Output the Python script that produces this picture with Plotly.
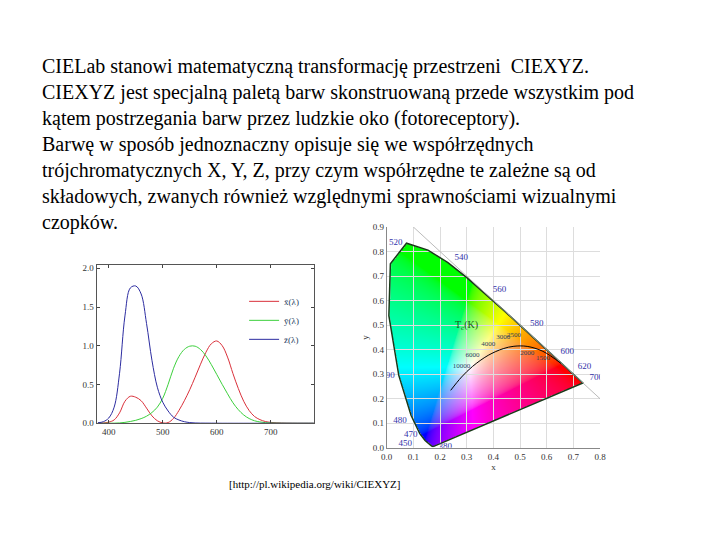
import numpy as np
import zlib, struct, base64
import plotly.graph_objects as go

text_lines = [
    "CIELab stanowi matematyczną transformację przestrzeni  CIEXYZ.",
    "CIEXYZ jest specjalną paletą barw skonstruowaną przede wszystkim pod",
    "kątem postrzegania barw przez ludzkie oko (fotoreceptory).",
    "Barwę w sposób jednoznaczny opisuje się we współrzędnych",
    "trójchromatycznych X, Y, Z, przy czym współrzędne te zależne są od",
    "składowych, zwanych również względnymi sprawnościami wizualnymi",
    "czopków.",
]
source = "[http://pl.wikipedia.org/wiki/CIEXYZ]"

wl = list(range(380, 790, 10))
xbar = [0.0014,0.0042,0.0143,0.0435,0.1344,0.2839,0.3483,0.3362,0.2908,0.1954,0.0956,0.0320,0.0049,0.0093,0.0633,0.1655,0.2904,0.4334,0.5945,0.7621,0.9163,1.0263,1.0622,1.0026,0.8544,0.6424,0.4479,0.2835,0.1649,0.0874,0.0468,0.0227,0.0114,0.0058,0.0029,0.0014,0.0007,0.0003,0.0002,0.0001,0.0000]
ybar = [0.0000,0.0001,0.0004,0.0012,0.0040,0.0116,0.0230,0.0380,0.0600,0.0910,0.1390,0.2080,0.3230,0.5030,0.7100,0.8620,0.9540,0.9950,0.9950,0.9520,0.8700,0.7570,0.6310,0.5030,0.3810,0.2650,0.1750,0.1070,0.0610,0.0320,0.0170,0.0082,0.0041,0.0021,0.0010,0.0005,0.0002,0.0001,0.0001,0.0000,0.0000]
zbar = [0.0065,0.0201,0.0679,0.2074,0.6456,1.3856,1.7471,1.7721,1.6692,1.2876,0.8130,0.4652,0.2720,0.1582,0.0782,0.0422,0.0203,0.0087,0.0039,0.0021,0.0017,0.0011,0.0008,0.0003,0.0002] + [0.0]*16

planck_T = ["1000","1500","2000","2500","3000","4000","6000","10000","∞"]
planck_x = [0.6528,0.5857,0.5267,0.4770,0.4369,0.3805,0.3221,0.2807,0.2399]
planck_y = [0.3444,0.3931,0.4133,0.4137,0.4041,0.3768,0.3318,0.2884,0.2342]

locus_labels = [490,500,520,540,560,580,600,620,700]
blue_labels = ["450", "470", "480", "380"]
blue_x = [0.07, 0.09, 0.05, 0.22]
blue_y = [0.015, 0.055, 0.11, 0.005]

W, H = 720, 540
def px(x): return x / W
def py(y): return 1 - y / H

fig = go.Figure()

for vals, col, name in [(xbar, "#d9303a", "x̄(λ)"), (ybar, "#3ccf3c", "ȳ(λ)"), (zbar, "#2c2ca0", "z̄(λ)")]:
    fig.add_trace(go.Scatter(x=wl, y=vals, mode="lines", line=dict(color=col, width=1, shape="spline"),
                             name=name, xaxis="x", yaxis="y"))

X = np.array(xbar[:33]); Y = np.array(ybar[:33]); Z = np.array(zbar[:33])
S = X + Y + Z
S[S == 0] = 1
lx = X / S; ly = Y / S
lx[0], ly[0] = 0.1741, 0.0050
lx[1], ly[1] = 0.1738, 0.0049
polx = np.append(lx, lx[0]); poly = np.append(ly, ly[0])

nx, ny = 240, 270
gx = np.linspace(0, 0.8, nx); gy = np.linspace(0.9, 0, ny)
GX, GY = np.meshgrid(gx, gy)
inside = np.zeros(GX.shape, bool)
for i in range(len(polx) - 1):
    x1, y1, x2, y2 = polx[i], poly[i], polx[i+1], poly[i+1]
    cond = ((y1 > GY) != (y2 > GY))
    xint = x1 + (GY - y1) * (x2 - x1) / (y2 - y1 + 1e-12)
    inside ^= cond & (GX < xint)
yy = np.maximum(GY, 1e-3)
Xc = GX / yy; Yc = np.ones_like(GX); Zc = (1 - GX - GY) / yy
r = 3.2406*Xc - 1.5372*Yc - 0.4986*Zc
g = -0.9689*Xc + 1.8758*Yc + 0.0415*Zc
b = 0.0557*Xc - 0.2040*Yc + 1.0570*Zc
rgb = np.clip(np.stack([r, g, b], -1), 0, None)
rgb = rgb / np.maximum(rgb.max(-1, keepdims=True), 1e-6)
rgb = np.where(rgb <= 0.0031308, 12.92*rgb, 1.055*np.power(rgb, 1/2.4) - 0.055)
img = np.zeros((ny, nx, 4), np.uint8)
img[..., :3] = (np.clip(rgb, 0, 1) * 255).astype(np.uint8)
img[..., 3] = np.where(inside, 255, 0)

def png(a):
    h, w, _ = a.shape
    raw = b"".join(b"\x00" + a[i].tobytes() for i in range(h))
    def chunk(t, d):
        c = struct.pack(">I", len(d)) + t + d
        return c + struct.pack(">I", zlib.crc32(t + d) & 0xffffffff)
    return (b"\x89PNG\r\n\x1a\n" + chunk(b"IHDR", struct.pack(">IIBBBBB", w, h, 8, 6, 0, 0, 0))
            + chunk(b"IDAT", zlib.compress(raw, 9)) + chunk(b"IEND", b""))
src = "data:image/png;base64," + base64.b64encode(png(img)).decode()

fig.add_trace(go.Scatter(x=polx, y=poly, mode="lines", line=dict(color="#1a3a1a", width=1.5),
                         xaxis="x2", yaxis="y2", showlegend=False))
fig.add_trace(go.Scatter(x=[0.1, 0.8], y=[0.9, 0.2], mode="lines", line=dict(color="#aaaaaa", width=0.8),
                         xaxis="x2", yaxis="y2", showlegend=False))
fig.add_trace(go.Scatter(x=planck_x, y=planck_y, mode="lines", line=dict(color="black", width=1, shape="spline"),
                         xaxis="x2", yaxis="y2", showlegend=False))
fig.add_trace(go.Scatter(x=planck_x[1:8], y=[v - 0.03 if i < 2 else v + 0.045 for i, v in enumerate(planck_y[1:8])],
                         mode="text", text=planck_T[1:8], textfont=dict(size=7, family="Liberation Serif"),
                         xaxis="x2", yaxis="y2", showlegend=False))
ll = [wl.index(w) for w in locus_labels]
fig.add_trace(go.Scatter(x=[lx[i] + (0.05 if lx[i] > 0.2 else -0.04) for i in ll],
                         y=[ly[i] + (0.02 if lx[i] > 0.2 else 0) for i in ll],
                         mode="text", text=[str(wl[i]) for i in ll],
                         textfont=dict(size=9, color="#3333aa", family="Liberation Serif"),
                         xaxis="x2", yaxis="y2", showlegend=False))
fig.add_trace(go.Scatter(x=blue_x, y=blue_y, mode="text", text=blue_labels,
                         textfont=dict(size=9, color="#3333aa", family="Liberation Serif"),
                         xaxis="x2", yaxis="y2", showlegend=False))

ann = []
for i, t in enumerate(text_lines):
    ann.append(dict(x=px(26), y=py(54.7 + i * 26.4), xref="paper", yref="paper", text=t, showarrow=False,
                    xanchor="left", yanchor="middle", font=dict(family="Liberation Serif", size=20, color="black")))
ann.append(dict(x=px(306), y=py(488), xref="paper", yref="paper", text=source, showarrow=False,
                font=dict(family="Liberation Serif", size=11, color="black")))
ann.append(dict(x=555, y=-0.04, xref="x", yref="y", text="λ (nm)", showarrow=False, yanchor="top",
                font=dict(family="Liberation Serif", size=12)))
ann.append(dict(x=0.30, y=0.50, xref="x2", yref="y2", text="T<sub>c</sub>(K)", showarrow=False,
                font=dict(family="Liberation Serif", size=10, color="#1a5a1a")))

tickfont = dict(family="Liberation Serif", size=9, color="#333")
fig.update_layout(
    width=W, height=H, margin=dict(l=0, r=0, t=0, b=0),
    paper_bgcolor="white", plot_bgcolor="white", annotations=ann,
    images=[dict(source=src, xref="x2", yref="y2", x=0, y=0.9, sizex=0.8, sizey=0.9,
                 sizing="stretch", layer="below", xanchor="left", yanchor="top")],
    xaxis=dict(domain=[px(84), px(305)], range=[377.5, 780], tickvals=[400, 500, 600, 700], ticks="inside",
               ticklen=3, showgrid=False, zeroline=False, showline=True, linecolor="#555", mirror="ticks",
               tickfont=tickfont, anchor="y"),
    yaxis=dict(domain=[py(418), py(257)], range=[0, 2.04], tickvals=[0, 0.5, 1, 1.5, 2], tickformat=".1f",
               ticks="inside", ticklen=3, showgrid=False, zeroline=False, showline=True, linecolor="#555",
               mirror="ticks", tickfont=tickfont, anchor="x"),
    xaxis2=dict(domain=[px(379), px(596)], range=[0, 0.8], dtick=0.1, tickformat=".1f", showgrid=True,
                gridcolor="#dddddd", zeroline=False, showline=True, linecolor="#888", tickfont=tickfont,
                title=dict(text="x", font=tickfont, standoff=0), anchor="y2"),
    yaxis2=dict(domain=[py(443), py(218)], range=[0, 0.9], dtick=0.1, tickformat=".1f",
                showgrid=True, gridcolor="#dddddd", zeroline=False, showline=True, linecolor="#888",
                tickfont=tickfont, title=dict(text="y", font=tickfont, standoff=2), anchor="x2"),
    legend=dict(x=px(234), y=py(279), xanchor="left", yanchor="top", bgcolor="rgba(0,0,0,0)",
                font=dict(family="Liberation Serif", size=9), tracegroupgap=0),
)
fig.write_html("out.html")
